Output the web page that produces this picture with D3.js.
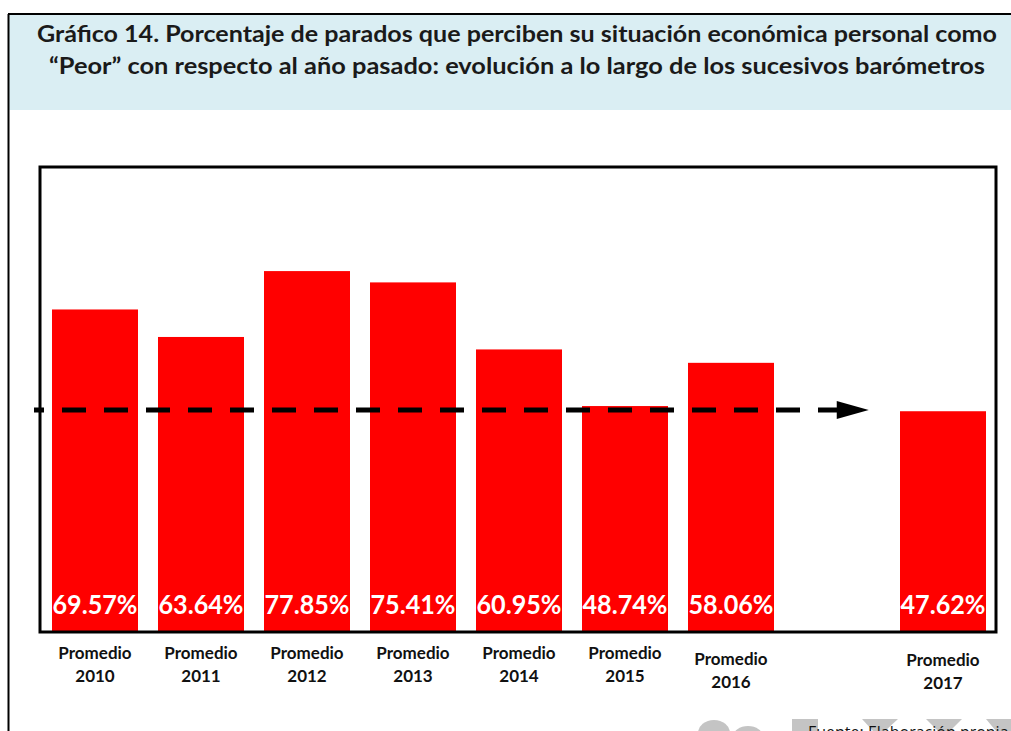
<!DOCTYPE html>
<html>
<head>
<meta charset="utf-8">
<script src="https://cdn.jsdelivr.net/npm/d3@7"></script>
<style>
  html, body { margin: 0; padding: 0; background: #fff; }
  svg { display: block; }
  text { font-family: Lato, "Open Sans", sans-serif; }
</style>
</head>
<body>
<div id="chart"></div>
<script>
// ---- data ----
const titleLines = [
  "Gráfico 14. Porcentaje de parados que perciben su situación económica personal como",
  "“Peor” con respecto al año pasado: evolución a lo largo de los sucesivos barómetros"
];
const categories = ["2010", "2011", "2012", "2013", "2014", "2015", "2016", "gap", "2017"];
const values = [69.57, 63.64, 77.85, 75.41, 60.95, 48.74, 58.06, null, 47.62];
const labelPrefix = "Promedio";
const trendValue = 47.9;
const sourceText = "Fuente: Elaboración propia";

// ---- layout ----
const W = 1011, H = 731;
const plot = { left: 40, top: 167, right: 996, bottom: 632 };

const svg = d3.select("#chart").append("svg").attr("width", W).attr("height", H);

// title box
svg.append("rect").attr("x", 9).attr("y", 15).attr("width", W - 9).attr("height", 95).attr("fill", "#DAEEF3");
svg.append("line").attr("x1", 8.5).attr("x2", 8.5).attr("y1", 14).attr("y2", H).attr("stroke", "#000").attr("stroke-width", 2);
svg.append("line").attr("x1", 8).attr("x2", W).attr("y1", 14).attr("y2", 14).attr("stroke", "#000").attr("stroke-width", 2);

const titleLens = [960, 936];
const titleY = [42, 74];
titleLines.forEach((t, i) => {
  svg.append("text").attr("x", 517).attr("y", titleY[i]).attr("text-anchor", "middle")
    .attr("font-size", 22).attr("font-weight", 700).attr("fill", "#1a1a1a")
    .attr("textLength", titleLens[i]).attr("lengthAdjust", "spacingAndGlyphs")
    .text(t);
});

// scales
const x = d3.scaleBand().domain(categories).range([plot.left + 2, plot.right])
  .paddingInner(0.1887).paddingOuter(0.0943);
const y = d3.scaleLinear().domain([0, 100]).range([plot.bottom, plot.bottom - 463.6]);

// watermark blobs (background decoration near source)
const wm = svg.append("g").attr("fill", "#c4c4c4");
wm.append("ellipse").attr("cx", 714).attr("cy", 733).attr("rx", 16).attr("ry", 13);
wm.append("ellipse").attr("cx", 748).attr("cy", 737).attr("rx", 15).attr("ry", 11);
wm.append("rect").attr("x", 792).attr("y", 719).attr("width", 26).attr("height", 12);
wm.append("path").attr("d", "M862,719 L898,719 L885,731 L873,731 Z");
wm.append("path").attr("d", "M926,719 L962,719 L950,731 L938,731 Z");
wm.append("path").attr("d", "M986,719 L1011,719 L1011,731 L996,731 Z");

svg.append("text").attr("x", 808).attr("y", 738).attr("font-size", 16).attr("fill", "#111")
  .style("font-family", "'Open Sans', sans-serif").text(sourceText);

// bars
const data = categories.map((c, i) => ({ c, v: values[i] })).filter(d => d.v != null);
svg.append("g").selectAll("rect").data(data).join("rect")
  .attr("x", d => x(d.c)).attr("width", x.bandwidth())
  .attr("y", d => y(d.v)).attr("height", d => y(0) - y(d.v))
  .attr("fill", "#FF0000");

// plot frame
svg.append("rect").attr("x", plot.left).attr("y", plot.top)
  .attr("width", plot.right - plot.left).attr("height", plot.bottom - plot.top)
  .attr("fill", "none").attr("stroke", "#000").attr("stroke-width", 3);

// value labels
svg.append("g").selectAll("text").data(data).join("text")
  .attr("x", d => x(d.c) + x.bandwidth() / 2).attr("y", 614)
  .attr("text-anchor", "middle").attr("font-size", 26).attr("font-weight", 700).attr("fill", "#fff")
  .attr("textLength", 85).attr("lengthAdjust", "spacingAndGlyphs")
  .text(d => d.v.toFixed(2) + "%");

// category labels
const labOffset = { "2016": 6, "2017": 7 };
const cg = svg.append("g").selectAll("text").data(data).join("text")
  .attr("text-anchor", "middle").attr("font-size", 17).attr("font-weight", 700).attr("fill", "#111");
cg.append("tspan").attr("x", d => x(d.c) + x.bandwidth() / 2).attr("y", d => 659 + (labOffset[d.c] || 0)).text(labelPrefix);
cg.append("tspan").attr("x", d => x(d.c) + x.bandwidth() / 2).attr("y", d => 682 + (labOffset[d.c] || 0)).text(d => d.c);

// trend dashed arrow
const ty = y(trendValue);
const xStart = plot.left - 6;
const xEnd = x("gap") + x.bandwidth() * 0.52;
svg.append("line").attr("x1", xStart).attr("x2", xEnd).attr("y1", ty).attr("y2", ty)
  .attr("stroke", "#000").attr("stroke-width", 5)
  .attr("stroke-dasharray", "24 18").attr("stroke-dashoffset", 14);
svg.append("path")
  .attr("d", `M${xEnd - 2},${ty - 9} L${xEnd + 30},${ty} L${xEnd - 2},${ty + 9} Z`)
  .attr("fill", "#000");
</script>
</body>
</html>
